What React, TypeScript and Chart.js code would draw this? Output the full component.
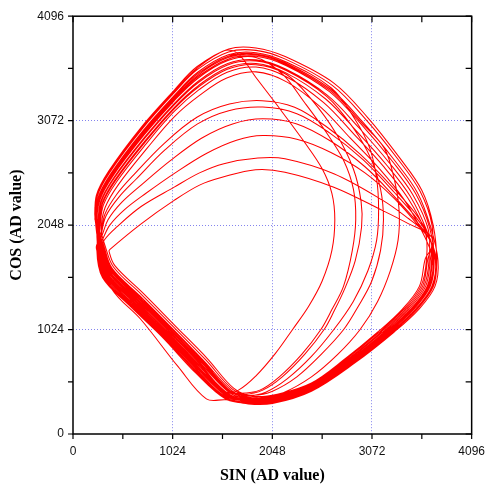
import React, { useEffect, useRef } from "react";
import { Chart, registerables } from "chart.js";
Chart.register(...registerables);

const xTickValues = [0, 1024, 2048, 3072, 4096];
const yTickValues = [0, 1024, 2048, 3072, 4096];
const frameTickValues = [0, 512, 1024, 1536, 2048, 2560, 3072, 3584, 4096];
const xTitle = "SIN (AD value)";
const yTitle = "COS (AD value)";

const loopA1 = [[225,2100],[240,2340],[369,2580],[703,3010],[1039,3370],[1273,3600],[1600,3775],[1880,3785],[2180,3700],[2680,3440],[3030,3100],[3351,2714],[3585,2388],[3700,2050],[3737,1702],[3704,1450],[3542,1229],[3282,999],[2890,704],[2450,428],[2055,309],[1805,302],[1569,342],[1263,596],[915,952],[576,1263],[304,1533],[245,1805]];
const loopB1 = [[290,1990],[330,2160],[450,2350],[603,2520],[938,2850],[1273,3105],[1607,3235],[1942,3268],[2277,3203],[2612,3007],[2947,2747],[3282,2421],[3550,2120],[3680,1880],[3672,1712],[3624,1450],[3452,1224],[3192,994],[2840,724],[2450,468],[2080,354],[1830,340],[1614,402],[1328,676],[990,1012],[656,1328],[374,1598],[298,1830]];
const loopC1 = [[228,2095],[245,2335],[374,2574],[706,3000],[1039,3357],[1275,3586],[1560,3760],[1700,3725],[1876,3500],[2100,3220],[2379,2860],[2560,2600],[2660,2360],[2690,2100],[2660,1800],[2560,1500],[2420,1250],[2260,1030],[2080,790],[1880,570],[1700,430],[1560,410],[1300,640],[960,990],[620,1300],[340,1570],[270,1820]];
const loopA2 = [[231,2090],[249,2328],[379,2567],[709,2989],[1039,3344],[1276,3572],[1598,3746],[1880,3761],[2182,3675],[2667,3416],[3012,3080],[3331,2703],[3566,2379],[3690,2041],[3685,1710],[3640,1450],[3470,1225],[3210,995],[2850,720],[2450,460],[2075,345],[1825,332],[1605,390],[1315,660],[975,1000],[640,1315],[360,1585],[288,1825]];
const loopB2 = [[295,1975],[340,2140],[470,2320],[650,2500],[950,2790],[1280,3040],[1600,3170],[1950,3205],[2300,3140],[2640,2950],[2980,2690],[3300,2370],[3560,2080],[3685,1870],[3646,1716],[3592,1450],[3416,1222],[3156,992],[2820,732],[2450,484],[2090,372],[1840,355],[1632,426],[1354,708],[1020,1036],[688,1354],[402,1624],[319,1840]];
const loopC2 = [[251,2060],[276,2292],[409,2528],[726,2926],[1039,3266],[1284,3488],[1592,3661],[1880,3691],[2150,3530],[2379,3250],[2600,2960],[2781,2681],[2881,2400],[2905,2100],[2870,1800],[2780,1450],[2660,1220],[2547,1024],[2350,780],[2120,560],[1920,430],[1720,400],[1560,420],[1322,668],[983,1006],[648,1322],[367,1592],[293,1828]];
const loopA3 = [[241,2075],[262,2310],[394,2548],[717,2958],[1039,3305],[1280,3530],[1595,3704],[1880,3726],[2185,3638],[2648,3380],[2985,3050],[3301,2686],[3539,2366],[3675,2028],[3750,1700],[3720,1450],[3560,1230],[3300,1000],[2900,700],[2450,420],[2050,300],[1800,295],[1575,335],[1370,345],[1080,660],[700,1120],[400,1420],[240,1820]];
const loopB3 = [[300,1950],[360,2100],[500,2270],[700,2440],[1000,2680],[1320,2900],[1640,3040],[1950,3090],[2300,3040],[2650,2870],[3000,2620],[3300,2330],[3560,2050],[3690,1860],[3704,1707],[3664,1450],[3497,1226],[3237,996],[2865,714],[2450,448],[2068,332],[1818,321],[1592,372],[1296,636],[952,982],[616,1296],[339,1565],[272,1818]];
const loopC3 = [[271,2030],[303,2256],[440,2489],[743,2863],[1040,3188],[1292,3404],[1586,3576],[1880,3621],[2194,3525],[2450,3280],[2700,2950],[2880,2600],[2960,2280],[2965,2030],[2900,1700],[2790,1420],[2680,1200],[2580,1024],[2380,780],[2150,560],[1950,430],[1760,390],[1620,420],[1348,700],[1013,1030],[680,1348],[395,1618],[314,1838]];
const loopA4 = [[248,2065],[272,2298],[404,2535],[723,2937],[1039,3279],[1282,3502],[1593,3675],[1880,3703],[2187,3613],[2635,3356],[2967,3030],[3281,2674],[3520,2357],[3665,2019],[3711,1706],[3672,1450],[3506,1227],[3246,997],[2870,712],[2450,444],[2065,327],[1815,318],[1587,366],[1289,628],[945,976],[608,1289],[332,1559],[267,1815]];
const loopB4 = [[310,1920],[380,2050],[530,2200],[750,2360],[1050,2560],[1370,2750],[1680,2880],[1950,2926],[2300,2890],[2650,2760],[3000,2560],[3300,2310],[3550,2040],[3690,1850],[3620,1720],[3560,1450],[3380,1220],[3120,990],[2800,740],[2450,500],[2100,390],[1850,370],[1650,450],[1380,740],[1050,1060],[720,1380],[430,1650],[370,1790]];
const loopB6 = [[380,1810],[700,2060],[1039,2290],[1300,2440],[1541,2519],[1876,2591],[2178,2567],[2680,2420],[3183,2190],[3450,2060],[3685,1930],[3692,1709],[3648,1450],[3479,1226],[3219,996],[2855,718],[2450,456],[2073,341],[1823,329],[1601,384],[1309,652],[968,994],[632,1309],[353,1579],[282,1823]];
const loopC4 = [[238,2080],[258,2316],[389,2554],[714,2968],[1039,3318],[1278,3544],[1596,3718],[1880,3738],[2184,3650],[2654,3392],[2900,3080],[3050,2800],[3120,2500],[3140,2200],[3120,1900],[3030,1600],[2880,1300],[2680,1024],[2450,760],[2200,540],[1980,410],[1780,370],[1601,384],[1309,652],[968,994],[632,1309],[353,1579],[282,1823]];
const loopA5 = [[258,2050],[285,2280],[420,2515],[732,2905],[1040,3240],[1287,3460],[1590,3633],[1880,3668],[2190,3575],[2615,3320],[2940,3000],[3251,2657],[3493,2344],[3650,2005],[3659,1714],[3608,1450],[3434,1223],[3174,993],[2830,728],[2450,476],[2085,363],[1835,348],[1623,414],[1341,692],[1005,1024],[672,1341],[388,1611],[309,1835]];
const loopB5 = [[320,1900],[450,2030],[700,2230],[1040,2420],[1300,2560],[1550,2650],[1900,2705],[2178,2698],[2680,2551],[3183,2290],[3450,2110],[3600,1990],[3690,1860],[3731,1703],[3696,1450],[3533,1229],[3273,999],[2885,706],[2450,432],[2058,314],[1808,306],[1574,348],[1270,604],[923,958],[584,1270],[311,1540],[251,1808]];
const loopC5 = [[261,2045],[290,2274],[425,2509],[734,2895],[1040,3227],[1288,3446],[1589,3618],[1880,3656],[2191,3563],[2609,3308],[2880,3000],[3060,2700],[3160,2400],[3190,2100],[3160,1800],[3070,1500],[2930,1250],[2781,1024],[2550,780],[2300,560],[2050,420],[1850,380],[1619,408],[1335,684],[998,1018],[664,1335],[381,1605],[303,1833]];
const loopA6 = [[267,2035],[299,2262],[435,2496],[740,2874],[1040,3201],[1291,3418],[1587,3590],[1880,3632],[2193,3538],[2596,3284],[2913,2970],[3220,2640],[3465,2331],[3635,1992],[3724,1704],[3688,1450],[3524,1228],[3264,998],[2880,708],[2450,436],[2060,318],[1810,310],[1578,354],[1276,612],[930,964],[592,1276],[318,1546],[256,1810]];
const loopC6 = [[245,2070],[267,2304],[399,2541],[720,2947],[1039,3292],[1281,3516],[1594,3690],[1880,3715],[2186,3625],[2641,3368],[2976,3040],[3200,2800],[3300,2500],[3350,2200],[3340,1900],[3260,1600],[3130,1300],[2950,1024],[2720,780],[2450,560],[2150,400],[1900,340],[1583,360],[1283,620],[938,970],[600,1283],[325,1553],[261,1813]];
const loopA7 = [[277,2020],[312,2244],[450,2476],[749,2842],[1040,3162],[1295,3376],[1584,3547],[1880,3597],[2196,3500],[2576,3248],[2886,2940],[3190,2623],[3437,2318],[3620,1978],[3633,1718],[3576,1450],[3398,1221],[3138,991],[2810,736],[2450,492],[2095,381],[1845,368],[1641,438],[1367,724],[1035,1048],[704,1367],[416,1637],[330,1845]];
const loopA8 = [[290,2000],[330,2220],[470,2450],[760,2800],[1040,3110],[1300,3320],[1580,3490],[1880,3550],[2200,3450],[2550,3200],[2850,2900],[3150,2600],[3400,2300],[3600,1960],[3698,1708],[3656,1450],[3488,1226],[3228,996],[2860,716],[2450,452],[2070,336],[1820,325],[1596,378],[1302,644],[960,988],[624,1302],[346,1572],[277,1820]];

const loopOrder = [loopA1, loopB1, loopC1, loopA2, loopB2, loopC2, loopA3, loopB3, loopC3, loopA4, loopB4, loopB6, loopC4, loopA5, loopB5, loopC5, loopA6, loopC6, loopA7, loopA8];

const tickFont = { family: "'Liberation Sans', Arial, sans-serif", size: 12 };
const titleFont = { family: "'Liberation Serif', 'Times New Roman', serif", size: 16, weight: "bold" as const };

export default function App() {
  const ref = useRef<HTMLCanvasElement>(null);
  useEffect(() => {
    if (!ref.current) return;
    const points = loopOrder.flat().map(([x, y]) => ({ x, y }));
    const framePlugin = {
      id: "frameTicks",
      afterDraw(chart: any) {
        const { ctx, chartArea } = chart;
        const { left, right, top, bottom } = chartArea;
        const xs = chart.scales.x;
        const ys = chart.scales.y;
        ctx.save();
        ctx.strokeStyle = "#000";
        ctx.lineWidth = 1.5;
        ctx.strokeRect(left, top, right - left, bottom - top);
        ctx.lineWidth = 1.2;
        ctx.beginPath();
        for (const v of frameTickValues) {
          const px = xs.getPixelForValue(v);
          ctx.moveTo(px, bottom);
          ctx.lineTo(px, bottom + 5);
          ctx.moveTo(px, top);
          ctx.lineTo(px, top + 6);
          const py = ys.getPixelForValue(v);
          ctx.moveTo(left, py);
          ctx.lineTo(left - 5, py);
          ctx.moveTo(right, py);
          ctx.lineTo(right - 6, py);
        }
        ctx.stroke();
        ctx.restore();
      },
    };
    const gridColor = (c: any) =>
      c.tick && (c.tick.value === 0 || c.tick.value === 4096) ? "rgba(0,0,0,0)" : "rgba(110,110,235,0.85)";
    const plainLabel = (v: any) => String(v);
    const chart = new Chart(ref.current, {
      type: "scatter",
      data: {
        datasets: [
          {
            data: points,
            showLine: true,
            borderColor: "#ff0000",
            borderWidth: 1.05,
            pointRadius: 0,
            tension: 0.35,
            fill: false,
          },
        ],
      },
      options: {
        responsive: false,
        animation: false,
        layout: { padding: { top: 15, right: 14, left: 0, bottom: 0 } },
        plugins: { legend: { display: false }, tooltip: { enabled: false } },
        scales: {
          x: {
            type: "linear",
            min: 0,
            max: 4096,
            afterBuildTicks: (s: any) => {
              s.ticks = xTickValues.map((v) => ({ value: v }));
            },
            afterFit: (s: any) => {
              s.height = 51;
            },
            ticks: { font: tickFont, color: "#111", padding: 10, maxRotation: 0, autoSkip: false, callback: plainLabel },
            grid: { drawTicks: false, color: gridColor, lineWidth: 1 },
            border: { display: false, dash: [1, 2] },
            title: { display: true, text: xTitle, font: titleFont, color: "#000", padding: { top: 0, bottom: 0 } },
          },
          y: {
            type: "linear",
            min: 0,
            max: 4096,
            afterBuildTicks: (s: any) => {
              s.ticks = yTickValues.map((v) => ({ value: v }));
            },
            afterFit: (s: any) => {
              s.width = 73;
            },
            ticks: { font: tickFont, color: "#111", padding: 9, autoSkip: false, callback: plainLabel },
            grid: { drawTicks: false, color: gridColor, lineWidth: 1 },
            border: { display: false, dash: [1, 2] },
            title: { display: true, text: yTitle, font: titleFont, color: "#000", padding: { top: 7, bottom: 0 } },
          },
        },
      },
      plugins: [framePlugin],
    } as any);
    return () => chart.destroy();
  }, []);
  return (
    <div style={{ position: "fixed", left: 0, top: 0, width: 495, height: 485, background: "#fff" }}>
      <canvas ref={ref} width={495} height={485} style={{ display: "block" }} />
    </div>
  );
}
